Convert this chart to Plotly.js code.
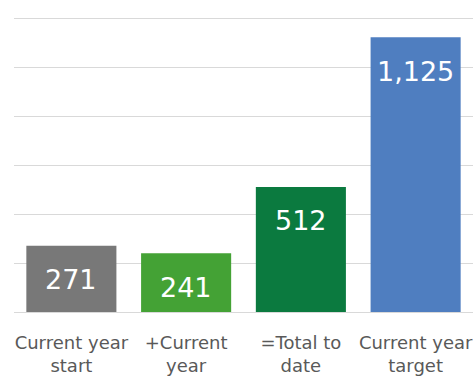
<!DOCTYPE html>
<html>
<head>
<meta charset="utf-8">
<script src="https://cdn.plot.ly/plotly-3.0.1.min.js"></script>
<style>html,body{margin:0;padding:0;background:#fff;}#chart{width:473px;height:376px;}</style>
</head>
<body>
<div id="chart"></div>
<script>
const categories = ["Current year<br>start", "+Current<br>year", "=Total to<br>date", "Current year<br>target"];
const values = [271, 241, 512, 1125];
const barColors = ["#787878", "#44a235", "#0b7a3f", "#4f7ec0"];
const yTicks = [0, 200, 400, 600, 800, 1000, 1200];

const fmt = v => v.toLocaleString("en-US");

const trace = {
  type: "bar",
  x: categories,
  y: values,
  marker: {color: barColors},
  hoverinfo: "none"
};

const annotations = categories.map((c, i) => ({
  x: c, y: values[i], xref: "x", yref: "y",
  text: fmt(values[i]),
  showarrow: false,
  yanchor: "middle",
  yshift: -34,
  font: {family: "DejaVu Sans", size: 27, color: "#ffffff"}
}));

const layout = {
  width: 473, height: 376,
  margin: {l: 14, r: 0, t: 17, b: 64, pad: 0},
  paper_bgcolor: "#ffffff",
  plot_bgcolor: "#ffffff",
  bargap: 0.215,
  showlegend: false,
  xaxis: {
    type: "category",
    showgrid: false, zeroline: false, showline: false,
    ticks: "",
    ticklabelstandoff: 18,
    automargin: false,
    tickfont: {family: "DejaVu Sans", size: 18, color: "#595959"}
  },
  yaxis: {
    range: [0, 1208],
    tickvals: yTicks,
    showticklabels: false,
    showgrid: true, gridcolor: "#d9d9d9", gridwidth: 1,
    zeroline: true, zerolinecolor: "#d9d9d9", zerolinewidth: 1,
    showline: false, ticks: ""
  },
  annotations: annotations
};

Plotly.newPlot("chart", [trace], layout, {staticPlot: true, displayModeBar: false});
</script>
</body>
</html>
